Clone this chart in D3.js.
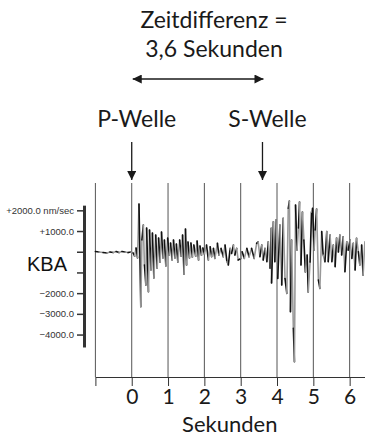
<!DOCTYPE html>
<html>
<head>
<meta charset="utf-8">
<script src="https://cdn.jsdelivr.net/npm/d3@7"></script>
<style>
  body { margin: 0; background: #fff; }
  .big { font-family: Lato, "Open Sans", sans-serif; fill: #1a1a1a; }
  .small { font-family: "Liberation Sans", Arial, sans-serif; }
</style>
</head>
<body>
<script>
// x axis: seconds after P onset
const seconds = [-1, 0, 1, 2, 3, 4, 5, 6];
const secondLabels = ["", "0", "1", "2", "3", "4", "5", "6"];
// y axis of the seismogram (nm/sec)
const ampTicks = [2000, 1000, 0, -1000, -2000, -3000, -4000];
const ampLabels = ["+2000.0 nm/sec", "+1000.0", "", "", "\u22122000.0", "\u22123000.0", "\u22124000.0"];
const pWave = 0;
const sWave = 3.6;
const titleLines = ["Zeitdifferenz =", "3,6 Sekunden"];
const station = "KBA";

// seismogram trace
const seisTime = [-1.00, -0.90, -0.79, -0.68, -0.60, -0.51, -0.43, -0.35, -0.27, -0.18, -0.10, -0.02, 0.04,
  0.08, 0.12, 0.16, 0.20, 0.25, 0.28, 0.32, 0.35, 0.39, 0.41, 0.46, 0.49, 0.53, 0.57, 0.61, 0.66, 0.70, 0.74,
  0.78, 0.82, 0.86, 0.90, 0.94, 0.99, 1.03, 1.07, 1.11, 1.15, 1.19, 1.23, 1.27, 1.32, 1.36, 1.40, 1.44, 1.48,
  1.51, 1.55, 1.59, 1.63, 1.67, 1.71, 1.76, 1.80, 1.84, 1.88, 1.92, 1.96, 2.00,
  2.06, 2.11, 2.16, 2.20, 2.25, 2.29, 2.36, 2.40, 2.46, 2.52, 2.57, 2.62, 2.66, 2.71, 2.75, 2.80, 2.84, 2.89,
  2.93, 3.01, 3.04, 3.10, 3.17, 3.23, 3.30, 3.37, 3.44, 3.48, 3.53, 3.58, 3.62, 3.67, 3.72, 3.76, 3.81, 3.84,
  3.85, 3.90, 3.94, 3.97, 4.02, 4.08, 4.13, 4.17, 4.22, 4.27, 4.31, 4.34, 4.37, 4.40, 4.45, 4.48, 4.51, 4.55,
  4.59, 4.62, 4.66, 4.70, 4.74, 4.78, 4.83, 4.86, 4.91, 4.95, 4.98, 5.02, 5.05, 5.09, 5.14, 5.18, 5.23, 5.27,
  5.32, 5.37, 5.41, 5.46, 5.51, 5.55, 5.60, 5.64, 5.69, 5.73, 5.78, 5.82, 5.87, 5.92, 5.96, 6.01, 6.06, 6.10,
  6.15, 6.19, 6.24, 6.28, 6.33, 6.37, 6.42];
const seisAmp = [10, -15, -40, -60, -15, -40, 10, -40, 10, -15, -40, -15, -60,
  -210, 180, -300, 2300, -2660, 570, 1290, -640, -1610, 1150, -1930, 1050, -880, 900, -1270, 810, -790, 660,
  -500, 950, -300, 565, -690, 660, -160, 420, -400, 565, -300, 370, -500, 565, -210, 810, -1080, 1100,
  -640, 470, -300, 420, -260, 320, -210, 520, -400, 280, -160, 180, -110,
  320, -400, 240, -240, 160, -320, 410, -160, 160, -240, 320, -480, -640, 160, -80, 320, -160, 160,
  -400, -320, 0, -320, 160, -240, 160, -320, 405, 480, -240, 320, -400, 160, -480, 480, -800, 1130,
  -1510, 1450, -480, 1530, -1290, 1290, -1610, 1610, -1290, -2010, 2100, 2450, -2900, 565, -3700, -5310, 2260, 80,
  1145, 2400, -640, 1920, 565, -980, -160, -1950, -500, 1920, 2100, 80, 1050, 2060, -1370, -1770, 970, -160,
  -480, 970, -480, 810, -480, 320, -720, 660, -15, 810, -160, 720, -970, 480, 80, 565, -320, 405,
  -880, 650, 0, -640, 320, -1130, 480];

const W = 365, H = 445;
const svg = d3.select("body").append("svg")
  .attr("width", W)
  .attr("height", H);

const x = d3.scaleLinear().domain([-1, 6.45]).range([95.4, 366]);
const y = d3.scaleLinear().domain([-6050, 3320]).range([377, 183]);

svg.append("defs").append("marker")
  .attr("id", "head")
  .attr("viewBox", "0 0 10 10")
  .attr("refX", 10).attr("refY", 5)
  .attr("markerWidth", 9).attr("markerHeight", 9)
  .attr("markerUnits", "userSpaceOnUse")
  .attr("orient", "auto-start-reverse")
  .append("path")
  .attr("d", "M0,0L10,5L0,10Z")
  .attr("fill", "#1a1a1a");

// vertical second lines
svg.append("g").selectAll("line")
  .data(seconds)
  .enter().append("line")
  .attr("x1", d => x(d)).attr("x2", d => x(d))
  .attr("y1", y.range()[1]).attr("y2", y.range()[0])
  .attr("stroke", "#555")
  .attr("stroke-width", 1);

// bottom axis
const xAxis = svg.append("g")
  .attr("transform", `translate(0,${y.range()[0]})`)
  .call(d3.axisBottom(x).tickValues(seconds).tickSize(9).tickSizeOuter(0).tickPadding(3)
    .tickFormat((d, i) => secondLabels[i]));
xAxis.selectAll("path, line").attr("stroke", "#333");
xAxis.selectAll("text").attr("class", "big").style("font-size", "21px");

svg.append("text")
  .attr("class", "big")
  .attr("x", x(2.7)).attr("y", 432)
  .attr("text-anchor", "middle")
  .style("font-size", "22px")
  .text("Sekunden");

// seismometer amplitude axis (only spans the recorder's range)
const yAxisScale = y.copy().domain([-4600, 2250]).range([y(-4600), y(2250)]);
const yAxis = svg.append("g")
  .attr("transform", "translate(84,0)")
  .call(d3.axisLeft(yAxisScale).tickValues(ampTicks).tickSize(7).tickSizeOuter(0).tickPadding(3)
    .tickFormat((d, i) => ampLabels[i]));
yAxis.select(".domain").attr("stroke", "#333").attr("stroke-width", 3);
yAxis.selectAll(".tick line").attr("stroke", "#333").attr("stroke-width", 1.5);
yAxis.selectAll("text").attr("class", "small").style("font-size", "9.5px").attr("fill", "#333");

svg.append("text")
  .attr("class", "small")
  .attr("x", 47).attr("y", 271)
  .attr("text-anchor", "middle")
  .style("font-size", "20px")
  .attr("fill", "#111")
  .text(station);

// trace: alternating dark / grey strokes
const pts = seisTime.map((t, i) => [x(t), y(seisAmp[i])]);
svg.append("g").selectAll("line")
  .data(d3.pairs(pts))
  .enter().append("line")
  .attr("x1", d => d[0][0]).attr("y1", d => d[0][1])
  .attr("x2", d => d[1][0]).attr("y2", d => d[1][1])
  .attr("stroke", (d, i) => i % 2 ? "#999" : "#111")
  .attr("stroke-width", 1.6)
  .attr("stroke-linecap", "round");

// P and S labels with arrows
const phases = [{name: "P-Welle", t: pWave}, {name: "S-Welle", t: sWave}];
svg.selectAll(".phase")
  .data(phases)
  .enter().append("text")
  .attr("class", "big")
  .attr("x", d => x(d.t) + 5)
  .attr("y", 127)
  .attr("text-anchor", "middle")
  .style("font-size", "23px")
  .text(d => d.name);

svg.selectAll(".down")
  .data(phases)
  .enter().append("line")
  .attr("x1", d => x(d.t)).attr("x2", d => x(d.t))
  .attr("y1", 142).attr("y2", 180)
  .attr("stroke", "#1a1a1a")
  .attr("stroke-width", 1.3)
  .attr("marker-end", "url(#head)");

// time difference arrow
svg.append("line")
  .attr("x1", x(pWave) + 1).attr("x2", x(sWave) + 1)
  .attr("y1", 79).attr("y2", 79)
  .attr("stroke", "#1a1a1a")
  .attr("stroke-width", 1.3)
  .attr("marker-start", "url(#head)")
  .attr("marker-end", "url(#head)");

svg.selectAll(".title")
  .data(titleLines)
  .enter().append("text")
  .attr("class", "big")
  .attr("x", 214)
  .attr("y", (d, i) => 28 + i * 29)
  .attr("text-anchor", "middle")
  .style("font-size", "23px")
  .text(d => d);
</script>
</body>
</html>
